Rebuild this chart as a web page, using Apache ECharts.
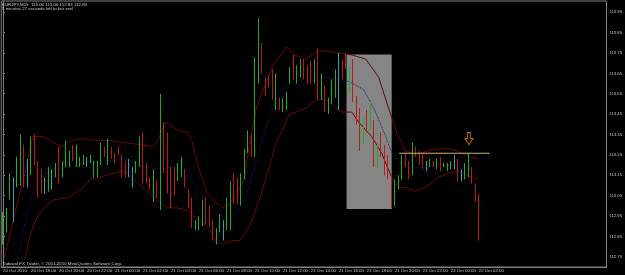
<!DOCTYPE html>
<html><head><meta charset="utf-8">
<script src="https://cdn.jsdelivr.net/npm/echarts@6/dist/echarts.min.js"></script>
<style>html,body{margin:0;padding:0;background:#000;}#c{width:625px;height:275px;}</style>
</head><body><div id="c"></div>
<script>
// ---- data ----
const headerText = 'EURJPY,M15  113.06 113.06 112.83 112.83';
const timerText = '5 minutes 27 seconds left to bar end';
const copyrightText = 'Tadawul FX Trader, \u00a9 2001-2010 MetaQuotes Software Corp.';
const timeTickLabels = ['20 Oct 2010','20 Oct 18:00','20 Oct 20:00','20 Oct 22:00','21 Oct 00:00','21 Oct 02:00','21 Oct 04:00','21 Oct 06:00','21 Oct 08:00','21 Oct 10:00','21 Oct 12:00','21 Oct 14:00','21 Oct 16:00','21 Oct 18:00','21 Oct 20:00','21 Oct 22:00','22 Oct 00:00','22 Oct 02:00'];
const barsPerTick = 8;
const slotCount = 173;
const priceTicks = [112.75,112.85,112.95,113.05,113.15,113.25,113.35,113.45,113.55,113.65,113.75,113.85,113.95];
const opens = [112.83,112.90,113.05,113.01,113.11,113.20,113.28,113.15,113.17,113.31,113.21,113.15,113.10,113.09,113.14,113.15,113.22,113.15,113.21,113.20,113.28,113.21,113.20,113.21,113.22,113.22,113.15,113.16,113.21,113.28,113.23,113.28,113.25,113.28,113.24,113.20,113.18,113.13,113.17,113.20,113.31,113.19,113.13,113.05,113.12,113.05,113.39,113.30,113.16,113.17,113.13,113.16,113.17,113.07,113.01,112.89,112.90,112.92,113.02,112.99,112.92,112.83,112.88,112.88,112.90,112.95,113.14,113.12,113.03,113.15,113.27,113.33,113.27,113.66,113.78,113.62,113.63,113.62,113.52,113.52,113.47,113.49,113.61,113.68,113.62,113.65,113.70,113.67,113.69,113.62,113.72,113.55,113.58,113.47,113.52,113.56,113.60,113.70,113.74,113.57,113.68,113.52,113.44,113.32,113.43,113.39,113.40,113.21,113.34,113.27,113.22,113.14,113.01,113.09,113.14,113.24,113.21,113.16,113.28,113.26,113.24,113.20,113.20,113.22,113.19,113.23,113.19,113.18,113.19,113.21,113.21,113.15,113.15,113.18,113.18,113.10,113.06];
const closes = [112.95,112.97,113.14,113.01,113.21,113.31,113.12,113.15,113.30,113.22,113.08,113.08,113.10,113.17,113.14,113.20,113.13,113.21,113.30,113.26,113.23,113.28,113.23,113.24,113.22,113.24,113.21,113.21,113.29,113.25,113.31,113.24,113.22,113.25,113.16,113.15,113.18,113.13,113.21,113.31,113.14,113.12,113.09,113.15,113.06,113.40,113.19,113.08,113.02,113.07,113.19,113.22,113.10,113.00,112.91,112.92,112.94,113.01,112.93,112.91,112.85,112.88,112.94,112.88,113.02,113.10,113.03,113.04,113.14,113.26,113.35,113.26,113.68,113.80,113.66,113.56,113.59,113.54,113.62,113.48,113.52,113.54,113.67,113.63,113.68,113.70,113.63,113.62,113.62,113.70,113.56,113.63,113.48,113.52,113.60,113.64,113.60,113.64,113.68,113.66,113.53,113.42,113.30,113.41,113.38,113.49,113.22,113.28,113.26,113.17,113.15,113.00,113.11,113.14,113.23,113.20,113.15,113.28,113.25,113.21,113.19,113.20,113.22,113.20,113.22,113.18,113.21,113.20,113.21,113.21,113.14,113.15,113.20,113.24,113.13,113.04,112.83];
const lows = [112.81,112.87,113.03,112.92,113.09,113.10,113.09,113.09,113.15,113.20,113.04,113.06,113.06,113.07,113.08,113.14,113.11,113.14,113.19,113.19,113.22,113.19,113.19,113.20,113.19,113.21,113.14,113.14,113.20,113.24,113.20,113.23,113.21,113.25,113.14,113.14,113.14,113.09,113.16,113.19,113.11,113.11,113.08,113.02,113.04,112.98,113.16,113.06,112.99,113.05,113.12,113.14,113.09,112.99,112.89,112.88,112.88,112.90,112.91,112.90,112.83,112.81,112.87,112.83,112.88,112.88,113.01,113.01,113.00,113.13,113.26,113.24,113.24,113.60,113.65,113.54,113.58,113.52,113.47,113.47,113.46,113.47,113.60,113.62,113.60,113.63,113.62,113.60,113.60,113.60,113.52,113.52,113.46,113.45,113.50,113.53,113.47,113.62,113.67,113.55,113.51,113.40,113.27,113.30,113.36,113.37,113.19,113.19,113.24,113.15,113.13,112.99,113.00,113.08,113.13,113.19,113.13,113.15,113.24,113.20,113.18,113.17,113.19,113.19,113.18,113.17,113.19,113.17,113.18,113.18,113.12,113.12,113.13,113.14,113.11,113.02,112.83];
const highs = [112.97,112.99,113.16,113.14,113.24,113.35,113.30,113.23,113.34,113.35,113.22,113.18,113.14,113.19,113.18,113.21,113.29,113.22,113.32,113.27,113.30,113.30,113.24,113.25,113.24,113.25,113.22,113.22,113.31,113.29,113.33,113.29,113.26,113.29,113.25,113.22,113.23,113.19,113.22,113.34,113.36,113.21,113.14,113.18,113.13,113.55,113.41,113.36,113.19,113.19,113.21,113.24,113.18,113.08,113.04,112.93,112.95,113.03,113.04,113.00,112.93,112.89,112.96,112.93,113.04,113.12,113.16,113.14,113.16,113.28,113.37,113.35,113.73,113.92,113.80,113.63,113.64,113.67,113.65,113.53,113.53,113.56,113.68,113.74,113.69,113.72,113.72,113.69,113.71,113.72,113.77,113.65,113.59,113.53,113.62,113.67,113.75,113.72,113.75,113.68,113.72,113.54,113.48,113.43,113.47,113.52,113.42,113.30,113.36,113.30,113.25,113.15,113.13,113.15,113.25,113.26,113.22,113.31,113.29,113.27,113.26,113.22,113.23,113.22,113.23,113.24,113.21,113.21,113.22,113.25,113.23,113.18,113.21,113.26,113.19,113.11,113.06];
// Bollinger bands (bar index, price)
const upperX = [0.3,2.3,4.3,6,8.5,11.4,13.6,15.6,17,17.9,19.9,22.2,27.8,30.7,35,39.2,42.9,44.3,46.3,47.7,50,52.6,54,55.4,56.8,58.5,61.1,62.8,64.8,66.8,69,70.5,72.4,77,81,83.2,86.6,89.8,92.6,96,99.7,103.7,107.4,110.2,112.5,115.1,117.9,121.6,124.4,128.1,131,133.8,136];
const upperY = [112.74,112.88,113.03,113.14,113.34,113.34,113.32,113.30,113.29,113.31,113.32,113.33,113.32,113.32,113.31,113.30,113.29,113.32,113.41,113.40,113.37,113.36,113.32,113.22,113.14,113.06,113.01,112.99,113.01,113.06,113.13,113.31,113.48,113.68,113.78,113.74,113.72,113.76,113.76,113.75,113.74,113.72,113.63,113.48,113.36,113.27,113.25,113.27,113.28,113.28,113.26,113.24,113.23];
const middleX = [4.3,5.7,7.4,8.8,10.8,12.8,15.6,19.3,22.2,25,28.7,35,37.2,41.2,44,46.9,49.7,52.6,55.4,58.2,61.1,63.9,66.8,69,71.3,74.1,77,79,81.8,84.7,87.5,91.2,95.2,98.9,103.1,106.5,109.4,111.1,113.9,116.8,120.7,124.4,128.1,131,133.8,136];
const middleY = [112.74,112.87,113.00,113.08,113.14,113.17,113.18,113.19,113.20,113.21,113.22,113.23,113.21,113.19,113.18,113.19,113.18,113.16,113.09,113.03,112.97,112.93,112.97,113.01,113.16,113.32,113.48,113.55,113.61,113.59,113.61,113.63,113.62,113.61,113.57,113.46,113.34,113.26,113.20,113.19,113.19,113.20,113.20,113.19,113.18,113.16];
const lowerX = [6.25,8,9.9,12.2,14.5,18.5,22.2,25,27.8,31.5,35,37.2,41.2,44,46.9,49.7,52.6,54.3,57.1,59.1,61.1,62.8,65.6,67.6,70.5,73.3,76.1,78.1,79.8,81.8,83.8,86.6,89.5,92.3,95.2,96.9,99.7,101.7,105.4,108.2,111.1,113.1,115.1,117.9,120.7,124.4,127.3,130.1,133.8,136];
const lowerY = [112.74,112.87,112.95,113.00,113.03,113.04,113.08,113.13,113.14,113.16,113.17,113.13,113.07,113.03,112.99,112.99,112.98,112.95,112.92,112.88,112.82,112.81,112.83,112.83,112.90,113.03,113.19,113.31,113.37,113.45,113.46,113.48,113.52,113.52,113.48,113.46,113.46,113.41,113.34,113.26,113.14,113.09,113.09,113.07,113.09,113.14,113.16,113.17,113.14,113.13];
// annotations (in bar index / price units)
const boxBars = [98.2, 111.1];
const boxPrices = [113.743, 112.984];
const levelBars = [113.2, 139.1];
const levelPrice = 113.258;
const arrowBar = 133.2;
const arrowPrice = 113.33;
const lastPrice = 112.83;

// ---- build ----
const COL_UP = '#1fae1f', COL_DN = '#bb1a1a', COL_DOJI = '#20a6b4';
const categories = Array.from({length: slotCount}, (_, i) => String(i));
const ohlc = opens.map((o, i) => {
  const v = [o, closes[i], lows[i], highs[i]];
  if (o === closes[i]) return {value: v, itemStyle: {color: COL_DOJI, color0: COL_DOJI, borderColor: COL_DOJI, borderColor0: COL_DOJI}};
  return v;
});
const zip = (xs, ys) => xs.map((x, i) => [x, ys[i]]);
const tickShown = (idx) => idx % barsPerTick === 0 && idx / barsPerTick < timeTickLabels.length;
const font = 'Liberation Sans';
const txt = {color: '#c8c8c8', fontSize: 4.4, fontWeight: 'normal', fontFamily: font};

const chart = echarts.init(document.getElementById('c'), null, {renderer: 'canvas'});
chart.setOption({
  animation: false,
  backgroundColor: '#000',
  title: [
    {text: headerText, left: 2, top: 2.5, padding: 0, textStyle: txt},
    {text: timerText, left: 2, top: 7, padding: 0, textStyle: txt},
    {text: copyrightText, left: 2, top: 262, padding: 0, textStyle: txt}
  ],
  grid: {left: 1, right: 17, top: 1, bottom: 8, show: true, borderColor: '#808080', borderWidth: 1, backgroundColor: '#000', containLabel: false},
  xAxis: [
    {type: 'category', data: categories, boundaryGap: true,
     axisLine: {lineStyle: {color: '#808080'}},
     axisTick: {alignWithLabel: true, interval: tickShown, length: 2, lineStyle: {color: '#808080'}},
     axisLabel: {interval: tickShown, formatter: (v, idx) => timeTickLabels[idx / barsPerTick] || '', align: 'left', color: '#c8c8c8', fontSize: 4.4, fontFamily: font, margin: 1.5},
     splitLine: {show: false}},
    {type: 'value', min: -0.5, max: slotCount - 0.5, show: false}
  ],
  yAxis: {type: 'value', position: 'right', min: 112.70, max: 114.005, scale: true,
    axisLine: {show: true, lineStyle: {color: '#808080'}},
    axisTick: {show: true, length: 2, customValues: priceTicks, lineStyle: {color: '#808080'}},
    axisLabel: {customValues: priceTicks, formatter: v => v.toFixed(2), color: '#c8c8c8', fontSize: 4.2, fontFamily: font, margin: 3},
    splitLine: {show: false}},
  series: [
    {type: 'line', xAxisIndex: 1, z: 1, silent: true, symbol: 'none', data: [[boxBars[0], boxPrices[0]]], lineStyle: {opacity: 0},
     markArea: {silent: true, itemStyle: {color: '#858585'},
       data: [[{coord: [boxBars[0], boxPrices[0]]}, {coord: [boxBars[1], boxPrices[1]]}]]}},
    {type: 'line', xAxisIndex: 1, z: 3, silent: true, symbol: 'none', data: zip(upperX, upperY), lineStyle: {color: '#6e0606', width: 1}},
    {type: 'line', xAxisIndex: 1, z: 3, silent: true, symbol: 'none', data: zip(lowerX, lowerY), lineStyle: {color: '#6e0606', width: 1}},
    {type: 'line', xAxisIndex: 1, z: 3, silent: true, symbol: 'none', data: zip(middleX, middleY), lineStyle: {color: '#18187a', width: 1, type: 'dotted'}},
    {type: 'candlestick', xAxisIndex: 0, z: 5, barWidth: 1, data: ohlc,
     itemStyle: {color: COL_UP, color0: COL_DN, borderColor: COL_UP, borderColor0: COL_DN, borderWidth: 1},
     markLine: {silent: true, symbol: 'none', lineStyle: {opacity: 0},
       label: {position: 'end', formatter: lastPrice.toFixed(2), color: '#000', backgroundColor: '#c0c0c0', fontSize: 4.2, fontFamily: font, padding: [0.5, 1], distance: 2},
       data: [{yAxis: lastPrice}]}},
    {type: 'line', xAxisIndex: 1, z: 6, silent: true, symbol: 'none', data: [[levelBars[0], levelPrice], [levelBars[1], levelPrice]], lineStyle: {color: '#c8b464', width: 1}},
    {type: 'scatter', xAxisIndex: 1, z: 7, silent: true, data: [[arrowBar, arrowPrice]],
     symbol: 'path://M3,0 L7,0 L7,6 L10,6 L5,12 L0,6 L3,6 Z', symbolSize: [8, 12],
     itemStyle: {color: 'rgba(0,0,0,0)', borderColor: '#f08a00', borderWidth: 1}}
  ]
});
</script></body></html>
